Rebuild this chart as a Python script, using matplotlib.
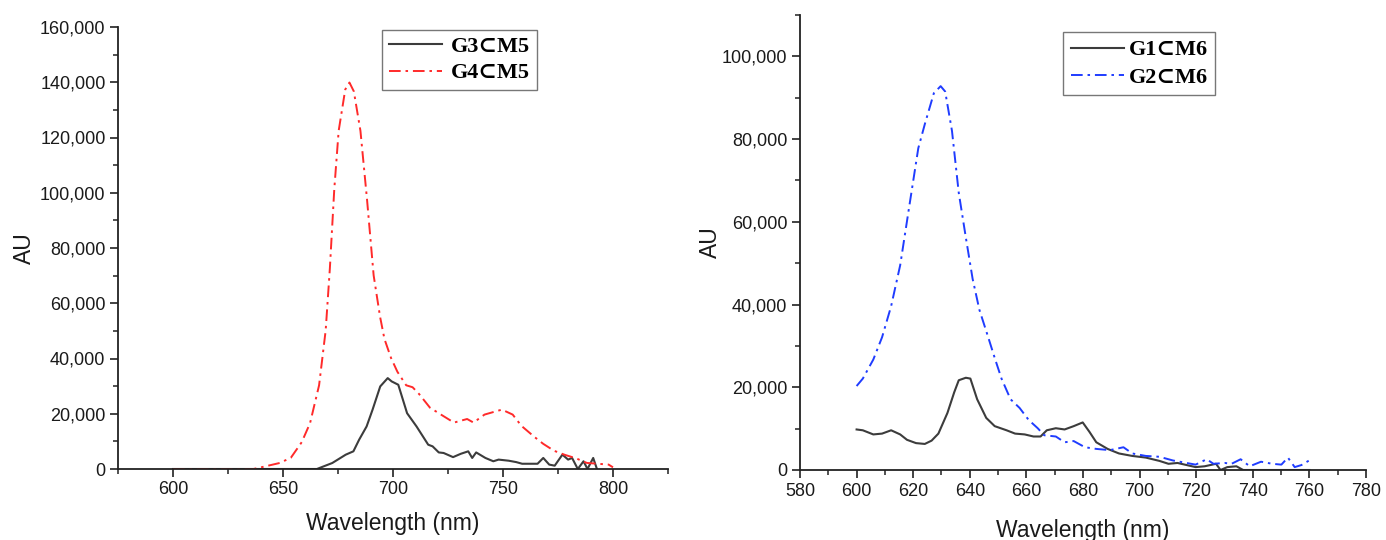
import matplotlib
matplotlib.use("Agg")
import matplotlib.pyplot as plt
from matplotlib.ticker import MultipleLocator, FuncFormatter

# ---------------- data ----------------
# Left panel: G3⊂M5 (solid dark grey)
g3_x = [600, 620, 640, 660, 665.4, 672.4, 678.5, 682, 684.6, 688, 690.7, 694.2, 697.6, 699.4,
        702.4, 706.4, 710.7, 716, 718, 720.8, 723, 727.3, 730.8, 734.2, 736, 737.8, 742,
        745.6, 748, 752.6, 756, 758.7, 765.7, 768.3, 771, 773.5, 777, 779.6, 781.4, 784,
        786.6, 788.4, 791, 792.7]
g3_y = [0, 0, 0, 0, 0, 2170, 5180, 6400, 10600, 15400, 21450, 29900, 32900, 31700,
        30500, 20200, 15400, 8800, 8200, 6000, 5800, 4300, 5500, 6400, 4000, 6000, 4000,
        2800, 3400, 3000, 2500, 1900, 1900, 4000, 1600, 1200, 5200, 3400, 4000, 0,
        2800, 0, 4000, 0]

# Left panel: G4⊂M5 (red dash-dot)
g4_x = [600, 620, 636.6, 640, 648.6, 653.6, 658.5, 662.3, 666.4, 669.4, 671.3, 673.3, 675.3,
        678.3, 680.2, 682.2, 685.2, 688.2, 691.2, 694.1, 696.1, 699.1, 702, 706, 708.9,
        711.9, 716.8, 721.8, 727.7, 733.7, 736.6, 741.6, 749.5, 754.4, 758.4, 764.3,
        768.3, 773.2, 778.2, 783.1, 788.1, 793, 798, 800]
g4_y = [0, 0, 0, 600, 2200, 4100, 9700, 16600, 30300, 50200, 72600, 101200, 122400,
        137400, 139900, 136700, 122400, 97500, 70100, 55200, 47100, 40200, 35200, 30300, 29600,
        27100, 22200, 19700, 16800, 18100, 16800, 19700, 21500, 19700, 15600, 11600,
        9100, 6600, 5100, 3900, 2200, 1900, 1600, 600]

# Right panel: G1⊂M6 (solid dark grey)
g1_x = [600, 602.2, 605.9, 609, 612.2, 615.4, 617.8, 621, 624.1, 626.5, 628.9, 632.1, 634.5,
        636.1, 638.6, 640.2, 642.6, 645.8, 648.8, 653, 656, 659.4, 662.5, 665, 667.2, 670.4,
        673.5, 676.7, 679.9, 682.3, 684.7, 688.7, 692.7, 697.4, 702.2, 707, 710.2, 713.4,
        716.6, 719.8, 723, 727, 728.6, 731, 734.2, 736.6, 740, 745, 750, 755, 760]
g1_y = [9800, 9600, 8600, 8800, 9600, 8600, 7300, 6500, 6300, 7100, 8800, 13800, 18800,
        21700, 22300, 22100, 17100, 12600, 10600, 9600, 8800, 8600, 8100, 8100, 9600, 10100,
        9800, 10600, 11500, 9200, 6700, 5100, 4000, 3400, 3000, 2200, 1500, 1700,
        1200, 700, 900, 1500, 0, 700, 900, 0, 0, 0, 0, 0, 0]

# Right panel: G2⊂M6 (blue dash-dot)
g2_x = [600, 602.2, 605.9, 609, 612.2, 615.4, 618.6, 621.8, 624.1, 627.3, 629.7, 631.3, 633.7,
        636.1, 638.6, 641, 643.4, 646.5, 648.8, 651.2, 654.4, 657.6, 660.8, 664, 666.3, 670.4,
        673.5, 676.7, 680.7, 684.7, 689.5, 694.3, 697.4, 702.2, 707, 711.8, 716.6, 719.8,
        723.7, 726.1, 730.1, 732.5, 735.7, 738.9, 742.9, 746.9, 750.1, 752.4, 754.8, 757.2, 759.9]
g2_y = [20300, 22100, 26700, 32100, 39600, 49500, 63700, 77800, 83600, 91100, 92800, 91500, 82000,
        67000, 56200, 46200, 38700, 32100, 27100, 22100, 17100, 15000, 12100, 10100, 8400, 8100,
        6700, 7000, 5500, 5100, 4800, 5500, 4000, 3400, 3200, 2300, 1700, 1300,
        2600, 1500, 1700, 1500, 2600, 900, 2000, 1500, 1300, 3000, 700, 1200, 2300]

left_labels = ["G3\u2282M5", "G4\u2282M5"]
right_labels = ["G1\u2282M6", "G2\u2282M6"]
xlabel = "Wavelength (nm)"
ylabel = "AU"

# ---------------- styling ----------------
plt.rcParams['font.family'] = ['Liberation Sans', 'DejaVu Sans']
GREY = '#3c3c3c'
RED = '#ff2a2a'
BLUE = '#1f3cff'
DASHDOT = (6, 2.5, 1.3, 2.5)

fig = plt.figure(figsize=(13.86, 5.40), dpi=100)
ax1 = fig.add_axes([118/1386, 1-469/540, (668-118)/1386, (469-27)/540])
ax2 = fig.add_axes([800/1386, 1-470/540, (1366-800)/1386, (470-15)/540])

comma = FuncFormatter(lambda v, p: f"{int(round(v)):,}")
legend_font = {'family': ['Liberation Serif', 'DejaVu Serif'], 'weight': 'bold', 'size': 16}

def style(ax, xlim, xmaj, xmin, ylim, ymaj, ymin, xlabelpad, ylabelpad):
    ax.set_xlim(*xlim)
    ax.set_ylim(*ylim)
    ax.xaxis.set_major_locator(MultipleLocator(xmaj))
    ax.xaxis.set_minor_locator(MultipleLocator(xmin))
    ax.yaxis.set_major_locator(MultipleLocator(ymaj))
    ax.yaxis.set_minor_locator(MultipleLocator(ymin))
    ax.yaxis.set_major_formatter(comma)
    for s in ('top', 'right'):
        ax.spines[s].set_visible(False)
    for s in ('left', 'bottom'):
        ax.spines[s].set_linewidth(1.3)
        ax.spines[s].set_color('#222222')
    ax.tick_params(which='major', direction='out', length=6, width=1.2,
                   labelsize=13, colors='#222222', labelcolor='#1a1a1a', pad=3)
    ax.tick_params(which='minor', direction='out', length=3.5, width=1.1, colors='#222222')
    ax.set_xlabel(xlabel, fontsize=16.5, labelpad=xlabelpad, color='#1a1a1a')
    ax.set_ylabel(ylabel, fontsize=16.5, labelpad=ylabelpad, color='#1a1a1a')

# Left panel
ax1.plot(g3_x, g3_y, color=GREY, lw=1.5, label=left_labels[0])
ax1.plot(g4_x, g4_y, color=RED, lw=1.4, dashes=DASHDOT, label=left_labels[1])
style(ax1, (575, 825), 50, 25, (0, 160000), 20000, 10000, 10, 3)
leg1 = ax1.legend(loc='upper left', bbox_to_anchor=((382-118)/550, 1 - (30-27)/442), prop=legend_font,
                  frameon=True, fancybox=False, edgecolor='#555555', handlelength=2.4,
                  handletextpad=0.4, borderpad=0.3, labelspacing=0.25, borderaxespad=0)
leg1.get_frame().set_linewidth(1.0)

# Right panel
ax2.plot(g1_x, g1_y, color=GREY, lw=1.5, label=right_labels[0])
ax2.plot(g2_x, g2_y, color=BLUE, lw=1.4, dashes=DASHDOT, label=right_labels[1])
style(ax2, (580, 780), 20, 10, (0, 110000), 20000, 10000, 14, 0)
leg2 = ax2.legend(loc='upper left', bbox_to_anchor=((1063-800)/566, 1 - (32-15)/455), prop=legend_font,
                  frameon=True, fancybox=False, edgecolor='#555555', handlelength=2.4,
                  handletextpad=0.2, borderpad=0.35, labelspacing=0.3, borderaxespad=0)
leg2.get_frame().set_linewidth(1.0)

fig.savefig("out.png", dpi=100, facecolor='white')
